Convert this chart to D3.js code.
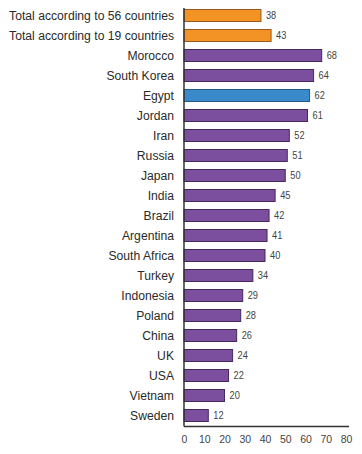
<!DOCTYPE html>
<html><head><meta charset="utf-8">
<script src="https://cdn.jsdelivr.net/npm/d3@7"></script>
<style>body{margin:0;background:#fff}</style>
</head><body>
<svg id="c" width="362" height="454"></svg>
<script>
const categories = ["Total according to 56 countries","Total according to 19 countries","Morocco","South Korea","Egypt","Jordan","Iran","Russia","Japan","India","Brazil","Argentina","South Africa","Turkey","Indonesia","Poland","China","UK","USA","Vietnam","Sweden"];
const values = [38,43,68,64,62,61,52,51,50,45,42,41,40,34,29,28,26,24,22,20,12];
const groups = ["total","total","country","country","egypt","country","country","country","country","country","country","country","country","country","country","country","country","country","country","country","country"];
const xTicks = [0,10,20,30,40,50,60,70,80];

const fills = {total:"#F39325", country:"#7B4F9E", egypt:"#3A8ACB"};
const strokes = {total:"#9a5a1c", country:"#44285e", egypt:"#245a86"};
const font = "'Liberation Sans',Arial,sans-serif";

const svg = d3.select("#c");
const x = d3.scaleLinear().domain([0,80]).range([184,346]);
const y = d3.scaleBand().domain(categories).range([5.5,425.5]).paddingInner(0.4).paddingOuter(0.2);

const data = categories.map((c,i)=>({c, v:values[i], g:groups[i]}));

svg.selectAll("rect.bar").data(data).enter().append("rect")
  .attr("class","bar")
  .attr("x", x(0))
  .attr("y", d=>y(d.c))
  .attr("width", d=>x(d.v)-x(0))
  .attr("height", y.bandwidth())
  .attr("fill", d=>fills[d.g])
  .attr("stroke", d=>strokes[d.g])
  .attr("stroke-width", 1);

svg.selectAll("text.val").data(data).enter().append("text")
  .attr("class","val")
  .attr("transform", d=>`translate(${x(d.v)+5},${y(d.c)+y.bandwidth()/2}) scale(0.88,1)`)
  .attr("dy","0.35em")
  .attr("font-family", font)
  .attr("font-size", 10.5)
  .attr("fill","#444")
  .text(d=>d.v);

const yAxis = svg.append("g").attr("transform",`translate(${x(0)},0)`)
  .call(d3.axisLeft(y).tickSize(0).tickPadding(10));
yAxis.select(".domain").attr("d", `M0,8V426.5`).attr("stroke","#333").attr("stroke-width",1.5);
const labels = yAxis.selectAll("text").attr("font-family", font).attr("font-size",13.3).attr("fill","#2a2a2a");
const longest = labels.nodes()[0].getComputedTextLength();
const sx = 165/longest;
labels.attr("x", -10/sx).attr("transform", `scale(${sx},1)`);

const xAxis = svg.append("g").attr("transform","translate(0,426.5)")
  .call(d3.axisBottom(x).tickValues(xTicks).tickSize(0).tickPadding(9));
xAxis.select(".domain").attr("d",`M${x(0)},0H349`).attr("stroke","#333").attr("stroke-width",1.5);
xAxis.selectAll("text").attr("font-family", font).attr("font-size",10.5).attr("fill","#444");
</script>
</body></html>
